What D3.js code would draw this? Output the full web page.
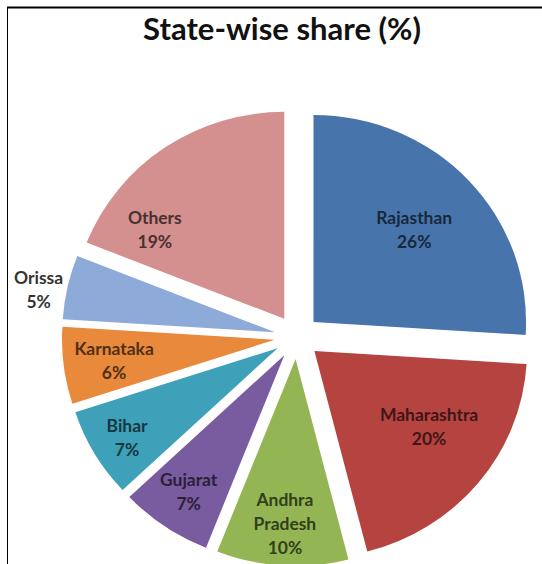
<!DOCTYPE html>
<html>
<head>
<meta charset="utf-8">
<script src="https://cdn.jsdelivr.net/npm/d3@7"></script>
<style>
  body { margin: 0; background: #fff; }
  svg { display: block; }
</style>
</head>
<body>
<svg id="chart" width="542" height="564"></svg>
<script>
// Data, clockwise from 12 o'clock
const states = ['Rajasthan', 'Maharashtra', 'Andhra Pradesh', 'Gujarat', 'Bihar', 'Karnataka', 'Orissa', 'Others'];
const shares = [26, 20, 10, 7, 7, 6, 5, 19];
const labelLines = [['Rajasthan'], ['Maharashtra'], ['Andhra', 'Pradesh'], ['Gujarat'], ['Bihar'], ['Karnataka'], ['Orissa'], ['Others']];
const sliceColors = ['#4775ab', '#b5433f', '#93b553', '#785c9f', '#3fa0ba', '#e8893b', '#8eaad8', '#d48f8f'];

// hand-moved labels in the original (pixel nudges)
const labelNudge = { 'Others': [-33, 48], 'Orissa': [7, 11], 'Maharashtra': [8, -10], 'Bihar': [-4, 6], 'Karnataka': [8, 0] };

const svg = d3.select('#chart');
const width = 542, height = 564;

// frame lines (top and left only, like the cropped screenshot)
svg.append('line').attr('x1', 7).attr('y1', 7.5).attr('x2', width).attr('y2', 7.5)
    .attr('stroke', '#000').attr('stroke-width', 2);
svg.append('line').attr('x1', 7.5).attr('y1', 7).attr('x2', 7.5).attr('y2', height)
    .attr('stroke', '#000').attr('stroke-width', 1);

// Title
svg.append('text')
    .attr('x', 282).attr('y', 40)
    .attr('text-anchor', 'middle')
    .attr('font-family', 'Lato, "Open Sans", sans-serif')
    .attr('font-weight', 'bold')
    .attr('font-size', 31)
    .attr('fill', '#111')
    .text('State-wise share (%)');

const cx = 297, cy = 337;
const radius = 207;
const explode = 22;
const stretchX = 1.027; // the source image is slightly wider than tall

const pie = d3.pie().sort(null).value(d => d);
const arcs = pie(shares);
const arc = d3.arc().innerRadius(0).outerRadius(radius);

const g = svg.append('g').attr('transform', `translate(${cx},${cy}) scale(${stretchX},1)`);

const slice = g.selectAll('.slice')
    .data(arcs)
    .enter().append('g')
    .attr('class', 'slice')
    .attr('transform', d => {
        const mid = (d.startAngle + d.endAngle) / 2;
        return `translate(${explode * Math.sin(mid)},${-explode * Math.cos(mid)})`;
    });

slice.append('path')
    .attr('d', arc)
    .attr('fill', (d, i) => sliceColors[i]);

// labels: inside for most, outside for tiny slices
slice.each(function(d, i) {
    const span = d.endAngle - d.startAngle;
    const mid = (d.startAngle + d.endAngle) / 2;
    const outside = span < 0.35;
    let lr;
    if (outside) lr = radius + 36;
    else if (span > 1.2) lr = radius * 0.65;
    else lr = radius * 0.8;
    const nudge = labelNudge[states[i]] || [0, 0];
    const lx = lr * Math.sin(mid) + nudge[0], ly = -lr * Math.cos(mid) + nudge[1];
    const lines = labelLines[i].concat([shares[i] + '%']);
    const lineH = 24;
    const t = d3.select(this).append('text')
        .attr('text-anchor', 'middle')
        .attr('font-family', 'Lato, "Open Sans", sans-serif')
        .attr('font-weight', 'bold')
        .attr('font-size', 17)
        .attr('fill', outside ? '#333' : d3.color(sliceColors[i]).darker(3).formatHex());
    lines.forEach((s, k) => {
        t.append('tspan')
            .attr('x', lx)
            .attr('y', ly + (k - (lines.length - 1) / 2) * lineH + 6)
            .text(s);
    });
});
</script>
</body>
</html>
